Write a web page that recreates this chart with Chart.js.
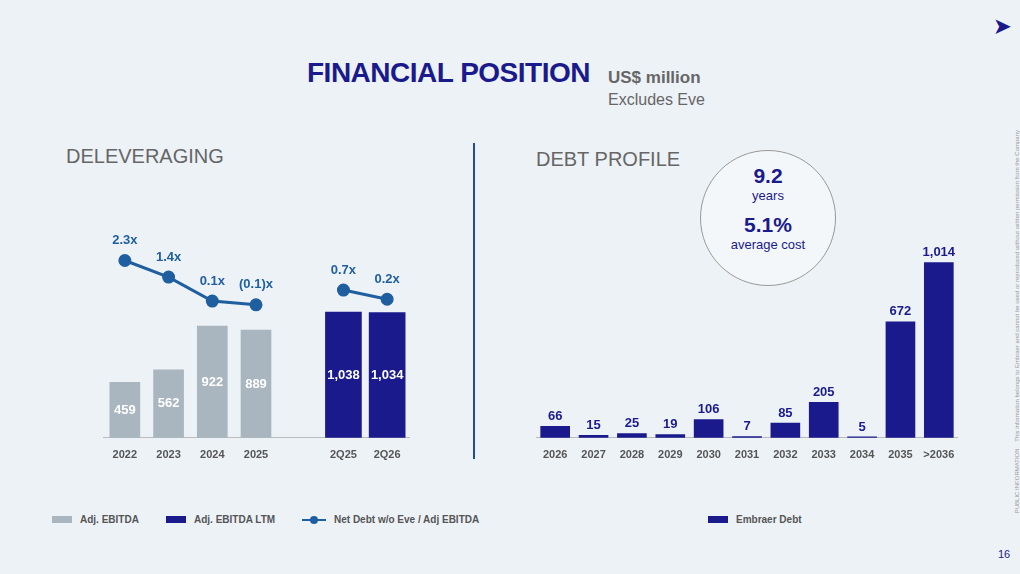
<!DOCTYPE html>
<html><head><meta charset="utf-8">
<script src="https://cdn.jsdelivr.net/npm/chart.js@4"></script>
<style>
body{margin:0;width:1020px;height:574px;background:#edf2f7;font-family:"Liberation Sans",Arial,sans-serif;position:relative;overflow:hidden}
.abs{position:absolute}
.title{left:307px;top:57px;font-size:28px;font-weight:bold;color:#1a1a8c;letter-spacing:-0.5px}
.unit{left:608px;top:68px;font-size:17px;font-weight:bold;color:#666}
.excl{left:608px;top:91px;font-size:16px;color:#666}
.sec{font-size:20px;color:#666}
.circle{left:700px;top:150px;width:134px;height:134px;border-radius:50%;border:1.5px solid #999;background:#f4f7fa;text-align:center;color:#1a1a8c}
.leg{font-size:10px;font-weight:bold;color:#555;display:flex;align-items:center}
.sw{display:inline-block;width:20px;height:7px;margin-right:8px}
</style></head><body>
<div class="abs title">FINANCIAL POSITION</div>
<div class="abs unit">US$ million</div>
<div class="abs excl">Excludes Eve</div>
<div class="abs sec" style="left:66px;top:145px">DELEVERAGING</div>
<div class="abs sec" style="left:536px;top:148px">DEBT PROFILE</div>
<div class="abs" style="left:473px;top:143px;width:2px;height:316px;background:#1f4f8a"></div>
<div class="abs circle">
  <div style="font-size:21px;font-weight:bold;margin-top:13px">9.2</div>
  <div style="font-size:13px">years</div>
  <div style="font-size:21px;font-weight:bold;margin-top:10px">5.1%</div>
  <div style="font-size:13px">average cost</div>
</div>
<div class="abs" style="left:994px;top:14px;font-size:20px;font-weight:bold;color:#1a1a8c">&#10148;</div>
<div class="abs" style="left:998px;top:548px;font-size:11px;color:#1a1a8c">16</div>
<div class="abs" style="left:1014px;top:130px;font-size:6px;color:#999;writing-mode:vertical-rl;transform:rotate(180deg);white-space:nowrap">PUBLIC INFORMATION &nbsp;&nbsp; This information belongs to Embraer and cannot be used or reproduced without written permission from the Company</div>
<div class="abs leg" style="left:52px;top:514px"><span class="sw" style="background:#a9b6bf"></span>Adj. EBITDA</div>
<div class="abs leg" style="left:166px;top:514px"><span class="sw" style="background:#1a1a8c"></span>Adj. EBITDA LTM</div>
<div class="abs leg" style="left:302px;top:514px"><span style="display:inline-block;width:24px;height:2px;background:#1f5fa0;margin-right:8px;position:relative"><span style="position:absolute;left:8px;top:-3px;width:8px;height:8px;border-radius:50%;background:#1f5fa0"></span></span>Net Debt w/o Eve / Adj EBITDA</div>
<div class="abs leg" style="left:708px;top:514px"><span class="sw" style="background:#1a1a8c"></span>Embraer Debt</div>

<div class="abs" style="left:95px;top:210px;width:322px;height:255px"><canvas id="left"></canvas></div>
<div class="abs" style="left:536px;top:220px;width:422px;height:245px"><canvas id="right"></canvas></div>
<script>
const leftCats = ["2022","2023","2024","2025","","2Q25","2Q26"];
const adjEbitda = [459,562,922,889,null,null,null];
const adjEbitdaLtm = [null,null,null,null,null,1038,1034];
const leverageYear = [2.3,1.4,0.1,-0.1,null,null,null];
const leverageQtr = [null,null,null,null,null,0.7,0.2];

const debtCats = ["2026","2027","2028","2029","2030","2031","2032","2033","2034","2035",">2036"];
const debt = [66,15,25,19,106,7,85,205,5,672,1014];

const NAVY="#1a1a8c", GREY="#a9b6bf", LINE="#1f5fa0";
const fmt = v => v.toLocaleString("en-US");
const lev = v => v<0 ? "("+Math.abs(v).toFixed(1)+")x" : v.toFixed(1)+"x";

const labelPlugin = {
  id:"vlabels",
  afterDatasetsDraw(chart){
    const c=chart.ctx;
    chart.data.datasets.forEach((ds,i)=>{
      if(!ds.lbl) return;
      chart.getDatasetMeta(i).data.forEach((el,j)=>{
        const v=ds.data[j]; if(v==null) return;
        c.save();
        c.font="bold "+(ds.lbl.size||13)+"px 'Liberation Sans', Arial";
        c.fillStyle=ds.lbl.color; c.textAlign="center"; c.textBaseline="middle";
        let y;
        if(ds.lbl.pos==="mid") y=(el.y+el.base)/2;
        else if(ds.lbl.pos==="point") y=el.y-20;
        else y=el.y-10;
        c.fillText(ds.lbl.f(v), el.x, y);
        c.restore();
      });
    });
  }
};
const xTicks = {color:"#555",font:{size:11,weight:"bold",family:"'Liberation Sans', Arial"}};

new Chart(document.getElementById("left"),{
  type:"bar",
  data:{labels:leftCats,datasets:[
    {type:"line",data:leverageYear,borderColor:LINE,backgroundColor:LINE,borderWidth:3,pointRadius:5,yAxisID:"y2",spanGaps:false,lbl:{pos:"point",color:LINE,f:lev}},
    {type:"line",data:leverageQtr,borderColor:LINE,backgroundColor:LINE,borderWidth:3,pointRadius:5,yAxisID:"y2",spanGaps:false,lbl:{pos:"point",color:LINE,f:lev}},
    {data:adjEbitda,backgroundColor:GREY,barThickness:30,lbl:{pos:"mid",color:"#fff",f:fmt}},
    {data:adjEbitdaLtm,backgroundColor:NAVY,barThickness:36,lbl:{pos:"mid",color:"#fff",f:fmt}}
  ]},
  options:{responsive:true,maintainAspectRatio:false,animation:false,
    plugins:{legend:{display:false},tooltip:{enabled:false}},
    scales:{
      x:{stacked:true,grid:{display:false},border:{color:"#bbb"},ticks:xTicks},
      y:{stacked:true,display:false,min:0,max:1815},
      y2:{display:false,min:-7.3,max:4.6}
    }},
  plugins:[labelPlugin]
});

new Chart(document.getElementById("right"),{
  type:"bar",
  data:{labels:debtCats,datasets:[
    {data:debt,backgroundColor:NAVY,barThickness:29,lbl:{pos:"top",color:NAVY,f:fmt}}
  ]},
  options:{responsive:true,maintainAspectRatio:false,animation:false,
    plugins:{legend:{display:false},tooltip:{enabled:false}},
    scales:{
      x:{grid:{display:false},border:{color:"#bbb"},ticks:xTicks},
      y:{display:false,min:0,max:1261}
    }},
  plugins:[labelPlugin]
});
</script>
</body></html>
